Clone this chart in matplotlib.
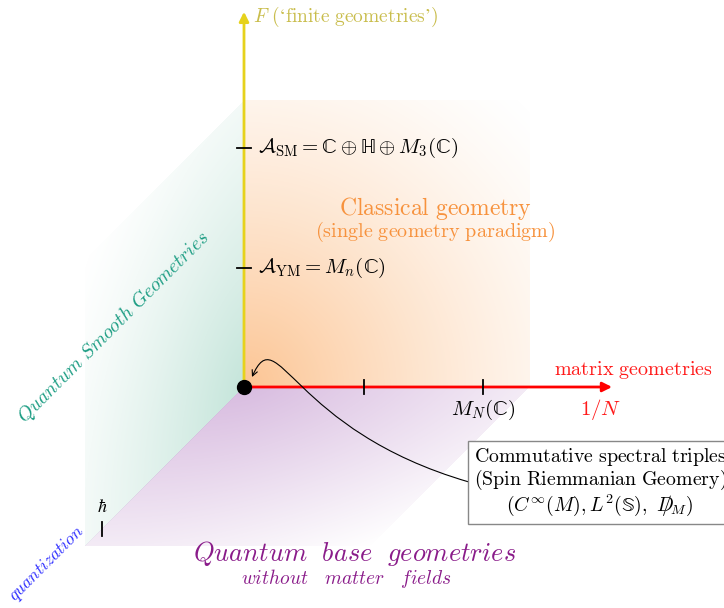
import numpy as np
import matplotlib.pyplot as plt
from matplotlib.path import Path
from matplotlib.patches import FancyArrowPatch

plt.rcParams['mathtext.fontset'] = 'cm'
plt.rcParams['font.family'] = 'DejaVu Serif'

# --- contents of the diagram (3D units: x = 1/N, f = finite, d = quantization)
x_ticks = [1, 2]
x_tick_labels = ['', r'$M_N(\mathrm{ℂ})$']
f_ticks = [1, 2]
f_tick_labels = [r'$\mathcal{A}_{\mathrm{YM}} = M_n(\mathrm{ℂ})$',
                 r'$\mathcal{A}_{\mathrm{SM}} = \mathrm{ℂ}\oplus\mathrm{ℍ}\oplus M_3(\mathrm{ℂ})$']
d_ticks = [1]
d_tick_labels = [r'$\hbar$']
axis_len = {'x': 3.08, 'f': 3.14, 'd': 1.56}
plane_ext = {'x': 2.39, 'f': 2.4, 'd': 1.12}

# projection of the pseudo-3D frame onto the picture (pixels)
O = np.array([244.0, 387.0])
ux = np.array([119.5, 0.0])
uf = np.array([0.0, -119.5])
ud = np.array([-142.0, 142.0])


def P(x=0.0, f=0.0, d=0.0):
    return O + x * ux + f * uf + d * ud


W, H = 724, 608
fig = plt.figure(figsize=(W / 100, H / 100), dpi=100)
ax = fig.add_axes([0, 0, 1, 1])
ax.set_xlim(0, W)
ax.set_ylim(H, 0)
ax.axis('off')

# --- shaded planes with a fading gradient
gx, gy = np.meshgrid(np.arange(W) + 0.5, np.arange(H) + 0.5)


def plane(a, b, rgb, amax=1.0, gamma=1.0):
    M = np.array([a, b]).T
    Minv = np.linalg.inv(M)
    px = gx - O[0]
    py = gy - O[1]
    u = Minv[0, 0] * px + Minv[0, 1] * py
    v = Minv[1, 0] * px + Minv[1, 1] * py
    inside = (u >= 0) & (u <= 1) & (v >= 0) & (v <= 1)
    r = np.sqrt(u ** 2 + v ** 2) / np.sqrt(2)
    alpha = np.clip(1 - r, 0, 1) ** gamma * amax
    img = np.zeros((H, W, 4))
    img[..., :3] = np.array(rgb) / 255.0
    img[..., 3] = np.where(inside, alpha, 0)
    ax.imshow(img, extent=(0, W, H, 0), zorder=0, interpolation='bilinear')


plane(plane_ext['x'] * ux, plane_ext['f'] * uf, (252, 190, 135), 0.9, 1.4)
plane(plane_ext['d'] * ud, plane_ext['f'] * uf, (190, 226, 214), 0.9, 1.3)
plane(plane_ext['x'] * ux, plane_ext['d'] * ud, (214, 184, 222), 0.95, 1.0)

# --- axes arrows
arrow_kw = dict(arrowstyle='-|>', mutation_scale=14, lw=2.0, shrinkA=0, shrinkB=0)
ax.annotate('', xy=P(x=axis_len['x']), xytext=O,
            arrowprops=dict(color='#ff0000', **arrow_kw), zorder=3)
ax.annotate('', xy=P(f=axis_len['f']), xytext=O,
            arrowprops=dict(color='#e6d21c', **arrow_kw), zorder=3)
ax.annotate('', xy=P(d=axis_len['d']), xytext=O,
            arrowprops=dict(color='#0000ff', **arrow_kw), zorder=3)

# --- ticks and tick labels
for t, lab in zip(x_ticks, x_tick_labels):
    p = P(x=t)
    ax.plot([p[0], p[0]], [p[1] - 7, p[1] + 7], color='black', lw=1.3, zorder=4)
    ax.text(p[0], p[1] + 23, lab, fontsize=15, ha='center', va='center')
for t, lab in zip(f_ticks, f_tick_labels):
    p = P(f=t)
    ax.plot([p[0] - 7, p[0] + 7], [p[1], p[1]], color='black', lw=1.3, zorder=4)
    ax.text(p[0] + 14, p[1], lab, fontsize=15, ha='left', va='center')
for t, lab in zip(d_ticks, d_tick_labels):
    p = P(d=t)
    ax.plot([p[0], p[0]], [p[1] - 7, p[1] + 7], color='black', lw=1.3, zorder=4)
    ax.text(p[0], p[1] - 22, lab, fontsize=13, ha='center', va='center')

ax.plot(*O, 'o', color='black', ms=10, zorder=5)

# --- axis titles
ax.text(253, 17, r"$F\ (\mathrm{‘finite\ geometries’})$", color='#c9bd4c',
        fontsize=14, ha='left', va='center')
ax.text(633, 370, r'$\mathrm{matrix\ geometries}$', color='#ff1a1a',
        fontsize=14.5, ha='center', va='center')
ax.text(601, 410, r'$1/N$', color='#ff1a1a', fontsize=15, ha='center', va='center')
ax.text(47, 564, r'$\mathit{quantization}$', color='#2a2aff', fontsize=12.5,
        ha='center', va='center', rotation=45)

# --- region labels
ax.text(435, 208, r'$\mathrm{Classical\ geometry}$', color='#f7923d',
        fontsize=17, ha='center', va='center')
ax.text(435, 232, r'$\mathrm{(single\ geometry\ paradigm)}$', color='#f7923d',
        fontsize=14.5, ha='center', va='center')
ax.text(114, 327, r'$\mathit{Quantum\ Smooth\ Geometries}$', color='#1a9c82',
        fontsize=14, ha='center', va='center', rotation=45)
ax.text(355, 554, r'$\mathit{Quantum\ \ base\ \ geometries}$', color='#8a1c8a',
        fontsize=19, ha='center', va='center')
ax.text(346, 578, r'$\mathit{without\quad matter\quad fields}$', color='#8a1c8a',
        fontsize=14, ha='center', va='center')

# --- box with commutative spectral triples and its arrow
ax.text(600, 482,
        r'$\mathrm{Commutative\ spectral\ triples}$' + '\n'
        + r'$\mathrm{(Spin\ Riemmanian\ Geomery)}$' + '\n'
        + r'$(C^{\infty}(M), L^2(\mathrm{𝕊}),\ D\!\!\!\!/_M)$',
        fontsize=14.3, ha='center', va='center', linespacing=1.0,
        bbox=dict(boxstyle='square,pad=0.3', fc='white', ec='#888888', lw=1.0),
        zorder=6)

curve = Path([(469, 482), (290, 430), (278, 318), (252, 377)],
             [Path.MOVETO, Path.CURVE4, Path.CURVE4, Path.CURVE4])
ax.add_patch(FancyArrowPatch(path=curve, arrowstyle='->', mutation_scale=10,
                             color='black', lw=0.8, zorder=4))

fig.savefig('out.png', dpi=100)
